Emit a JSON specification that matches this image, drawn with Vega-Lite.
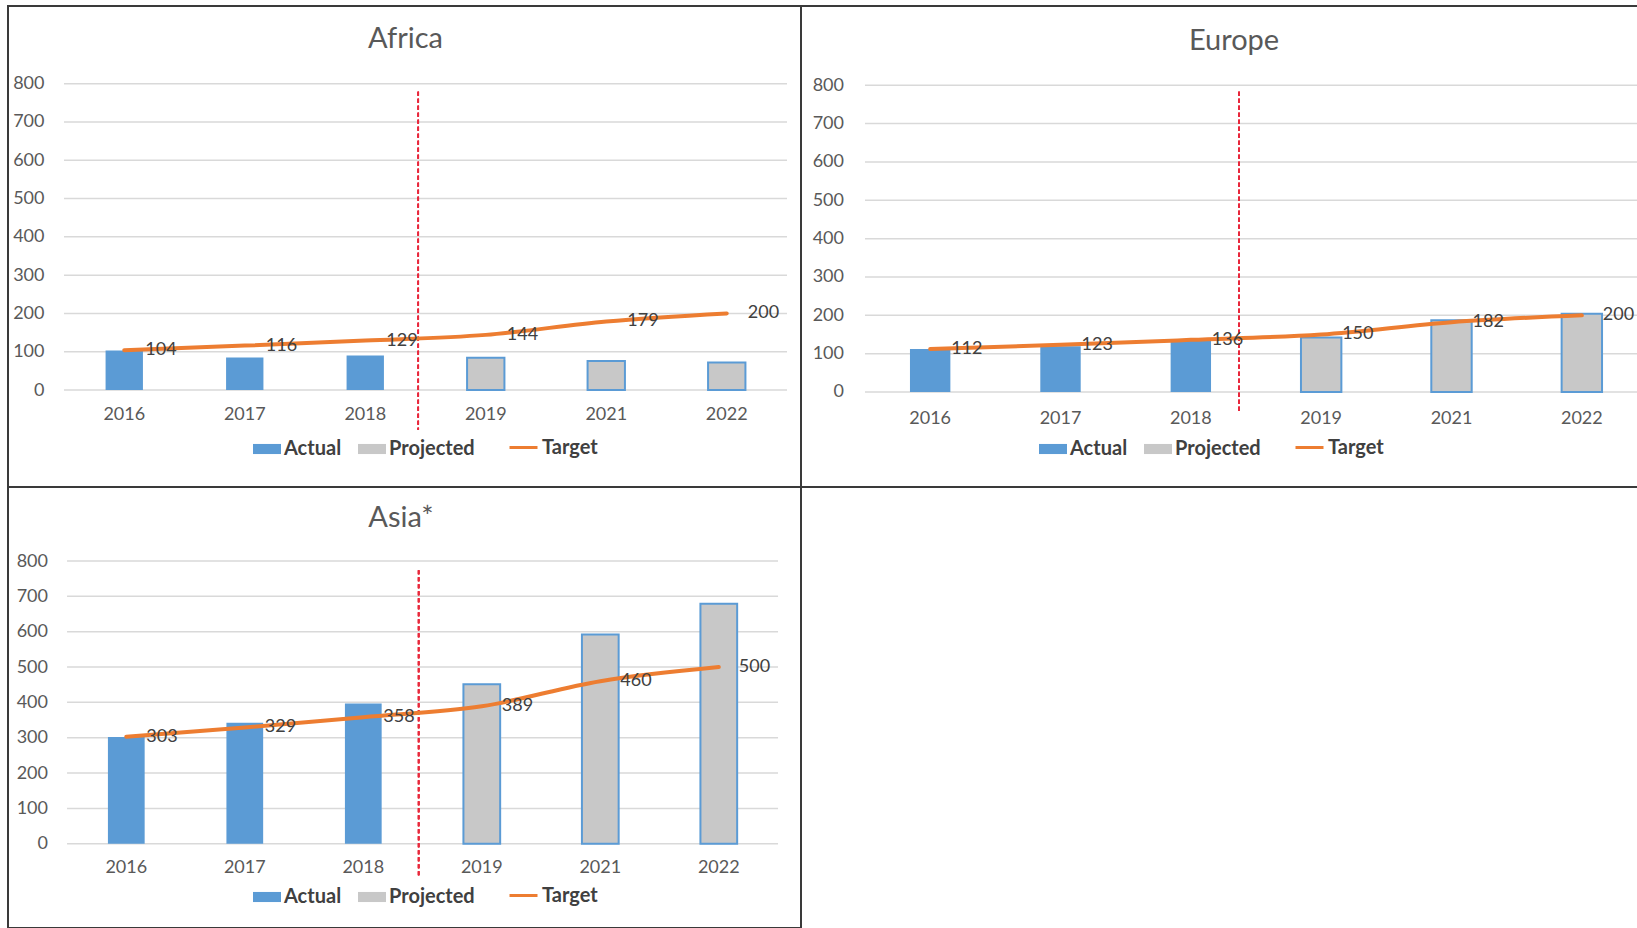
{
  "$schema": "https://vega.github.io/schema/vega-lite/v6.json",
  "padding": {"left": 7, "top": 5, "right": 0, "bottom": 0},
  "background": "white",
  "bounds": "flush",
  "spacing": 0,
  "columns": 2,
  "align": "each",
  "datasets": {
    "africa": [
      {"year": "2016", "type": "Actual", "value": 103, "target": 104},
      {"year": "2017", "type": "Actual", "value": 85, "target": 116},
      {"year": "2018", "type": "Actual", "value": 90, "target": 129},
      {"year": "2019", "type": "Projected", "value": 84, "target": 144},
      {"year": "2021", "type": "Projected", "value": 76, "target": 179},
      {"year": "2022", "type": "Projected", "value": 72, "target": 200}
    ],
    "europe": [
      {"year": "2016", "type": "Actual", "value": 112, "target": 112},
      {"year": "2017", "type": "Actual", "value": 119, "target": 123},
      {"year": "2018", "type": "Actual", "value": 135, "target": 136},
      {"year": "2019", "type": "Projected", "value": 142, "target": 150},
      {"year": "2021", "type": "Projected", "value": 187, "target": 182},
      {"year": "2022", "type": "Projected", "value": 204, "target": 200}
    ],
    "asia": [
      {"year": "2016", "type": "Actual", "value": 302, "target": 303},
      {"year": "2017", "type": "Actual", "value": 342, "target": 329},
      {"year": "2018", "type": "Actual", "value": 397, "target": 358},
      {"year": "2019", "type": "Projected", "value": 451, "target": 389},
      {"year": "2021", "type": "Projected", "value": 592, "target": 460},
      {"year": "2022", "type": "Projected", "value": 679, "target": 500}
    ],
    "grid": [{"g": 0}, {"g": 100}, {"g": 200}, {"g": 300}, {"g": 400}, {"g": 500}, {"g": 600}, {"g": 700}, {"g": 800}]
  },
  "config": {
    "font": "Lato",
    "view": {"stroke": "#3a3a3a", "strokeWidth": 2},
    "axis": {"domain": false, "ticks": false, "tickSize": 0, "labelPadding": 0, "grid": false, "title": null, "labelFont": "Lato", "labelFontSize": 18, "labelColor": "#595959"},
    "axisX": {"labelBaseline": "middle", "labelAngle": 0},
    "legend": {"title": null, "orient": "none", "direction": "horizontal", "padding": 0, "labelFont": "Lato", "labelFontSize": 20, "labelFontWeight": "bold", "labelColor": "#404040", "labelOffset": 3, "columnPadding": 16, "symbolSize": 784, "symbolStrokeWidth": 3},
    "title": {"font": "Lato", "fontSize": 29, "fontWeight": "normal", "color": "#595959", "anchor": "middle", "frame": "group", "baseline": "middle"}
  },
  "resolve": {"scale": {"x": "independent", "y": "independent", "color": "independent", "stroke": "independent"}, "legend": {"color": "independent", "stroke": "independent"}},
  "concat": [
    {
      "width": 793, "height": 481,
      "title": {"text": "Africa", "offset": -47.6, "dx": 1},
      "data": {"name": "africa"},
      "layer": [
        {
          "data": {"name": "grid"},
          "mark": {"type": "rule", "color": "#D9D9D9", "strokeWidth": 1.5},
          "encoding": {
            "x": {"datum": "2016", "bandPosition": 0, "type": "nominal"},
            "x2": {"datum": "2022", "bandPosition": 1},
            "y": {"field": "g", "type": "quantitative"}
          }
        },
        {
          "mark": {"type": "bar", "width": {"band": 0.31}, "strokeWidth": 2},
          "encoding": {
            "x": {"field": "year", "type": "nominal", "scale": {"domain": ["2016", "2017", "2018", "2019", "2021", "2022"], "paddingInner": 0, "paddingOuter": 0.2905, "align": 0.8}, "axis": {"offset": -72.5}},
            "y": {"field": "value", "type": "quantitative", "stack": null, "scale": {"domain": [-253.3, 1002.9], "nice": false, "zero": false}, "axis": {"values": [0, 100, 200, 300, 400, 500, 600, 700, 800], "offset": -36}},
            "color": {"field": "type", "type": "nominal", "scale": {"domain": ["Actual", "Projected"], "range": ["#5B9BD5", "#C8C8C8"]},
              "legend": {"legendX": 245, "legendY": 429, "symbolType": "M-1,-0.36H1V0.36H-1Z", "symbolStrokeWidth": 0}},
            "stroke": {"condition": {"test": "datum.type === 'Projected'", "value": "#5B9BD5"}, "value": null}
          }
        },
        {
          "mark": {"type": "rule", "color": "#E8283C", "strokeDash": [4, 3], "strokeWidth": 1.5},
          "encoding": {
            "x": {"datum": "2018", "bandPosition": 0.94, "type": "nominal"},
            "y": {"datum": 779},
            "y2": {"datum": -104}
          }
        },
        {
          "mark": {"type": "line", "strokeWidth": 4, "interpolate": "monotone", "strokeCap": "round"},
          "encoding": {
            "x": {"field": "year", "type": "nominal"},
            "y": {"field": "target", "type": "quantitative"},
            "stroke": {"datum": "Target", "scale": {"domain": ["Target"], "range": ["#ED7D31"]},
              "legend": {"legendX": 500, "legendY": 426, "symbolType": "stroke"}}
          }
        },
        {
          "mark": {"type": "text", "align": "left", "baseline": "middle", "dx": 21, "fontSize": 18, "color": "#404040", "font": "Lato"},
          "encoding": {
            "x": {"field": "year", "type": "nominal"},
            "y": {"field": "target", "type": "quantitative"},
            "text": {"field": "target", "type": "quantitative"}
          }
        }
      ]
    },
    {
      "width": 836, "height": 481,
      "view": {"stroke": null},
      "title": {"text": "Europe", "offset": -50.7, "dx": 15},
      "data": {"name": "europe"},
      "layer": [
        {
          "data": {"name": "grid"},
          "mark": {"type": "rule", "color": "#D9D9D9", "strokeWidth": 1.5, "clip": true},
          "encoding": {
            "x": {"datum": "2016", "bandPosition": 0, "type": "nominal"},
            "x2": {"datum": "2022", "bandPosition": 1},
            "y": {"field": "g", "type": "quantitative"}
          }
        },
        {
          "mark": {"type": "rule", "color": "#3a3a3a", "strokeWidth": 2},
          "encoding": {
            "y": {"datum": 1006.8}
          }
        },
        {
          "mark": {"type": "rule", "color": "#3a3a3a", "strokeWidth": 2},
          "encoding": {
            "y": {"datum": -247.8}
          }
        },
        {
          "mark": {"type": "bar", "width": {"band": 0.31}, "strokeWidth": 2},
          "encoding": {
            "x": {"field": "year", "type": "nominal", "scale": {"domain": ["2016", "2017", "2018", "2019", "2021", "2022"], "paddingInner": 0, "paddingOuter": 0, "range": [64, 846]}, "axis": {"offset": -68.3}},
            "y": {"field": "value", "type": "quantitative", "stack": null, "scale": {"domain": [-247.8, 1006.8], "nice": false, "zero": false}, "axis": {"values": [0, 100, 200, 300, 400, 500, 600, 700, 800], "offset": -42.5}},
            "color": {"field": "type", "type": "nominal", "scale": {"domain": ["Actual", "Projected"], "range": ["#5B9BD5", "#C8C8C8"]},
              "legend": {"legendX": 238, "legendY": 429, "symbolType": "M-1,-0.36H1V0.36H-1Z", "symbolStrokeWidth": 0}},
            "stroke": {"condition": {"test": "datum.type === 'Projected'", "value": "#5B9BD5"}, "value": null}
          }
        },
        {
          "mark": {"type": "rule", "color": "#E8283C", "strokeDash": [4, 3], "strokeWidth": 1.5},
          "encoding": {
            "x": {"datum": "2018", "bandPosition": 0.87, "type": "nominal"},
            "y": {"datum": 783},
            "y2": {"datum": -55}
          }
        },
        {
          "mark": {"type": "line", "strokeWidth": 4, "interpolate": "monotone", "strokeCap": "round"},
          "encoding": {
            "x": {"field": "year", "type": "nominal"},
            "y": {"field": "target", "type": "quantitative"},
            "stroke": {"datum": "Target", "scale": {"domain": ["Target"], "range": ["#ED7D31"]},
              "legend": {"legendX": 493, "legendY": 426, "symbolType": "stroke"}}
          }
        },
        {
          "mark": {"type": "text", "align": "left", "baseline": "middle", "dx": 21, "fontSize": 18, "color": "#404040", "font": "Lato"},
          "encoding": {
            "x": {"field": "year", "type": "nominal"},
            "y": {"field": "target", "type": "quantitative"},
            "text": {"field": "target", "type": "quantitative"}
          }
        }
      ]
    },
    {
      "width": 793, "height": 441,
      "title": {"text": "Asia*", "offset": -46, "dx": -3.5},
      "data": {"name": "asia"},
      "layer": [
        {
          "data": {"name": "grid"},
          "mark": {"type": "rule", "color": "#D9D9D9", "strokeWidth": 1.5},
          "encoding": {
            "x": {"datum": "2016", "bandPosition": 0, "type": "nominal"},
            "x2": {"datum": "2022", "bandPosition": 1},
            "y": {"field": "g", "type": "quantitative"}
          }
        },
        {
          "mark": {"type": "bar", "width": {"band": 0.31}, "strokeWidth": 2},
          "encoding": {
            "x": {"field": "year", "type": "nominal", "scale": {"domain": ["2016", "2017", "2018", "2019", "2021", "2022"], "paddingInner": 0, "paddingOuter": 0.346, "align": 0.72}, "axis": {"offset": -60.5}},
            "y": {"field": "value", "type": "quantitative", "stack": null, "scale": {"domain": [-238.5, 1009.4], "nice": false, "zero": false}, "axis": {"values": [0, 100, 200, 300, 400, 500, 600, 700, 800], "offset": -39.5}},
            "color": {"field": "type", "type": "nominal", "scale": {"domain": ["Actual", "Projected"], "range": ["#5B9BD5", "#C8C8C8"]},
              "legend": {"legendX": 245, "legendY": 396, "symbolType": "M-1,-0.36H1V0.36H-1Z", "symbolStrokeWidth": 0}},
            "stroke": {"condition": {"test": "datum.type === 'Projected'", "value": "#5B9BD5"}, "value": null}
          }
        },
        {
          "mark": {"type": "rule", "color": "#E8283C", "strokeDash": [4, 3], "strokeWidth": 1.5},
          "encoding": {
            "x": {"datum": "2018", "bandPosition": 0.967, "type": "nominal"},
            "y": {"datum": 774},
            "y2": {"datum": -91}
          }
        },
        {
          "mark": {"type": "line", "strokeWidth": 4, "interpolate": "monotone", "strokeCap": "round"},
          "encoding": {
            "x": {"field": "year", "type": "nominal"},
            "y": {"field": "target", "type": "quantitative"},
            "stroke": {"datum": "Target", "scale": {"domain": ["Target"], "range": ["#ED7D31"]},
              "legend": {"legendX": 500, "legendY": 393, "symbolType": "stroke"}}
          }
        },
        {
          "mark": {"type": "text", "align": "left", "baseline": "middle", "dx": 20, "fontSize": 18, "color": "#404040", "font": "Lato"},
          "encoding": {
            "x": {"field": "year", "type": "nominal"},
            "y": {"field": "target", "type": "quantitative"},
            "text": {"field": "target", "type": "quantitative"}
          }
        }
      ]
    }
  ]
}
